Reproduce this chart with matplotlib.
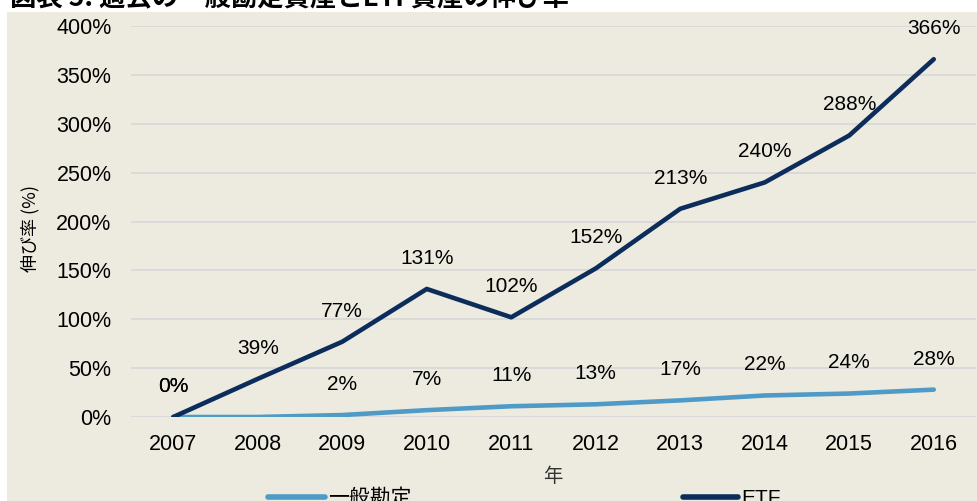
import matplotlib
matplotlib.use('Agg')
import matplotlib.pyplot as plt
from matplotlib.patches import Rectangle
from matplotlib.ticker import FuncFormatter

plt.rcParams['font.family'] = ['Liberation Sans', 'Noto Sans CJK JP', 'DejaVu Sans']

years = ['2007', '2008', '2009', '2010', '2011', '2012', '2013', '2014', '2015', '2016']
general = [0, 0, 2, 7, 11, 13, 17, 22, 24, 28]
etf = [0, 39, 77, 131, 102, 152, 213, 240, 288, 366]
# 2008 label for the general account is not shown in the original
general_labels = ['0%', '', '2%', '7%', '11%', '13%', '17%', '22%', '24%', '28%']
etf_labels = [f'{v}%' for v in etf]

c_general = '#4F9AC7'
c_etf = '#0C2D5C'
bg = '#EDEBE0'

W, H = 977, 501
fig = plt.figure(figsize=(W / 100, H / 100), dpi=100)
fig.patch.set_facecolor('white')
fig.patches.append(Rectangle((7 / W, 0), 1, 1 - 12 / H, transform=fig.transFigure,
                             facecolor=bg, edgecolor='none', zorder=-10))

ax = fig.add_axes([131 / W, 1 - 417 / H, 845 / W, 391 / H])
ax.set_facecolor(bg)
x = list(range(len(years)))

ax.plot(x, general, color=c_general, lw=3.3, solid_capstyle='round', zorder=3)
ax.plot(x, etf, color=c_etf, lw=3.3, solid_capstyle='round', zorder=4)

for xi, v, lab in zip(x, general, general_labels):
    if lab:
        ax.annotate(lab, (xi, v), xytext=(0, 22), textcoords='offset points',
                    ha='center', va='center', fontsize=15, color='black')
for xi, v, lab in zip(x, etf, etf_labels):
    ax.annotate(lab, (xi, v), xytext=(0, 22), textcoords='offset points',
                ha='center', va='center', fontsize=15, color='black')

ax.set_xlim(-0.5, len(years) - 0.5)
ax.set_ylim(0, 400)
ax.set_yticks(range(0, 401, 50))
ax.yaxis.set_major_formatter(FuncFormatter(lambda v, p: f'{int(v)}%'))
ax.set_xticks(x)
ax.set_xticklabels(years)
ax.tick_params(axis='both', length=0, labelsize=15.5, colors='black')
ax.tick_params(axis='y', pad=14)
ax.tick_params(axis='x', pad=12)
ax.grid(axis='y', color='#D9D9D9', lw=1.3)
ax.set_axisbelow(True)
for s in ax.spines.values():
    s.set_visible(False)

ax.set_ylabel('伸び率 (%)', fontsize=13, family=['Noto Sans CJK JP'], labelpad=0)
ax.yaxis.set_label_coords((39 - 131) / 845, (417 - 228) / 391)

fig.text(553 / W, 1 - 477 / H, '年', ha='center', va='center', fontsize=14,
         color='#333333', family=['Noto Sans CJK JP'])

# title, cut off at the top of the image
fig.text(10 / W, 1 - 12 / H, '図表 5: 過去の一般勘定資産とETF資産の伸び率',
         ha='left', va='bottom', fontsize=19, fontweight='bold', color='black',
         family=['Noto Sans CJK JP'])

# legend, cut off at the bottom of the image
for x0, x1, col, lab in [(268, 325, c_general, '一般勘定'), (683, 738, c_etf, 'ETF')]:
    fig.add_artist(plt.Line2D([x0 / W, x1 / W], [1 - 497 / H, 1 - 497 / H],
                              color=col, lw=4, solid_capstyle='round',
                              transform=fig.transFigure))
    fig.text((x1 + 3) / W, 1 - 498 / H, lab, ha='left', va='center', fontsize=15,
             color='black', family=['Liberation Sans', 'Noto Sans CJK JP'])

fig.savefig('out.png', dpi=100, facecolor=fig.get_facecolor())
